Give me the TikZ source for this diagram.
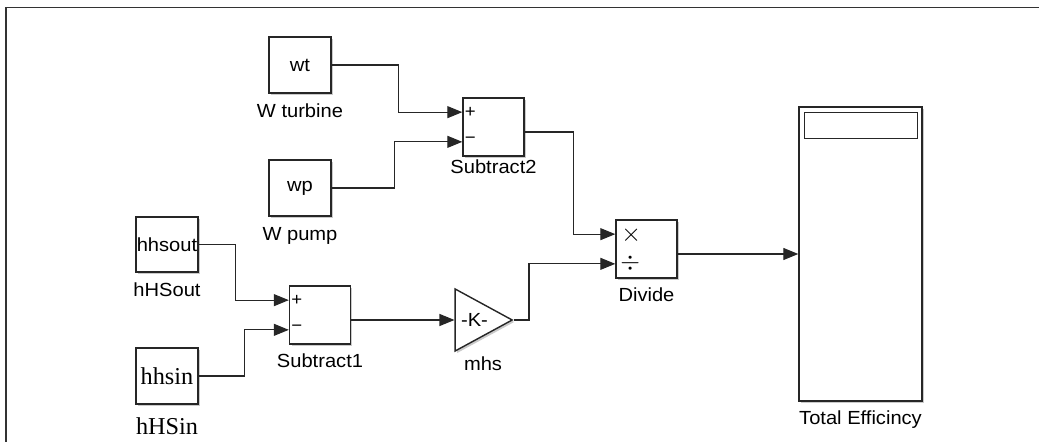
\documentclass[tikz,border=0pt]{standalone}
\usepackage{fontspec}
\setmainfont{Liberation Sans}[FakeStretch=1.06]
\newfontfamily\serifblk{Liberation Serif}
\usetikzlibrary{arrows.meta,calc,shadows,shapes.geometric}

\begin{document}
\begin{tikzpicture}[
      x=0.02cm, y=-0.02cm,
      block/.style={draw=black!85, fill=white, line width=0.8pt, inner sep=0pt,
        minimum width=1.24cm, minimum height=1.12cm,
        drop shadow={shadow xshift=0.04cm, shadow yshift=-0.04cm, fill=black!35, opacity=0.6},
        font=\fontsize{10.8}{12}\selectfont},
      sumblk/.style={block, minimum width=1.22cm, minimum height=1.16cm},
      wire/.style={draw=black!85, line width=0.65pt, -{Triangle[length=0.3cm, width=0.24cm]}},
      lbl/.style={anchor=base, inner sep=0pt, font=\fontsize{10.8}{12}\selectfont},
      slbl/.style={anchor=base, inner sep=0pt, font=\serifblk\fontsize{13.8}{16}\selectfont},
      sym/.style={inner sep=0pt, font=\fontsize{10}{11}\selectfont},
    ]
    \useasboundingbox (0,0) rectangle (1039,442);

    % -------------------------------------------------------
    %  Frame
    % -------------------------------------------------------
    \draw[black!80, line width=1.1pt] (6,442) -- (6,7.5) -- (1039,7.5);

    % -------------------------------------------------------
    %  Blocks
    % -------------------------------------------------------
    \node[block] (wt) at (300,65) {wt};
    \node[block] (wp) at (300,188) {wp};
    \node[block, minimum height=1.10cm] (hhsout) at (167,244.5) {hhsout};
    \node[block, font=\serifblk\fontsize{13.8}{16}\selectfont] (hhsin) at (167,376) {hhsin};

    \node[sumblk] (sub2) at (493.5,127) {};
    \node[sumblk] (sub1) at (320,315) {};
    \node[sumblk] (divide) at (646.5,249) {};

    \node[draw=black!85, fill=white, line width=0.8pt, inner sep=0pt,
      shape=isosceles triangle, isosceles triangle stretches,
      minimum width=1.24cm, minimum height=1.14cm, anchor=apex,
      drop shadow={shadow xshift=0.04cm, shadow yshift=-0.04cm, fill=black!35, opacity=0.6},
      font=\fontsize{10.8}{12}\selectfont] (gain) at (514,320) {-K-\hspace{3pt}};

    \node[block, minimum width=2.46cm, minimum height=5.88cm] (disp) at (860.5,254) {};
    \draw[black!85, line width=0.8pt] ($(disp.north west)+(6,6)$) rectangle ($(disp.north east)+(-5,32)$);

    % Signs
    \foreach \s in {sub1, sub2} {
      \node[sym] at ($(\s.north west)+(8,15)$) {+};
      \node[sym] at ($(\s.north west)+(8,43)$) {−};
    }
    \node[inner sep=0pt, font=\fontsize{14}{16}\selectfont] at ($(divide.north west)+(16,16)$) {$\times$};
    \node[inner sep=0pt, font=\fontsize{14}{16}\selectfont] at ($(divide.north west)+(15,44)$) {$\div$};

    % Labels
    \node[lbl] (wtlbl) at ($(wt.south)+(0,24)$) {W turbine};
    \node[lbl] (wplbl) at ($(wp.south)+(0,24)$) {W pump};
    \node[lbl] (hhsoutlbl) at ($(hhsout.south)+(0,24)$) {hHSout};
    \node[slbl] (hhsinlbl) at ($(hhsin.south)+(0,30)$) {hHSin};
    \node[lbl] (sub2lbl) at ($(sub2.south)+(0,17)$) {Subtract2};
    \node[lbl] (sub1lbl) at ($(sub1.south)+(0,23)$) {Subtract1};
    \node[lbl] (divlbl) at ($(divide.south)+(0,23)$) {Divide};
    \node[lbl] (gainlbl) at ($(gain.apex)+(-31,51)$) {mhs};
    \node[lbl] (displbl) at ($(disp.south)+(0,23)$) {Total Efficincy};

    % -------------------------------------------------------
    %  Ports
    % -------------------------------------------------------
    \coordinate (sub2in1) at ($(sub2.north west)!0.25!(sub2.south west)$);
    \coordinate (sub2in2) at ($(sub2.north west)!0.75!(sub2.south west)$);
    \coordinate (sub1in1) at ($(sub1.north west)!0.25!(sub1.south west)$);
    \coordinate (sub1in2) at ($(sub1.north west)!0.75!(sub1.south west)$);
    \coordinate (divin1) at ($(divide.north west)!0.25!(divide.south west)$);
    \coordinate (divin2) at ($(divide.north west)!0.75!(divide.south west)$);
    \coordinate (sub2out) at ($(sub2.east)+(0,5)$);
    \coordinate (sub1out) at ($(sub1.east)+(0,5)$);
    \coordinate (divout) at ($(divide.east)+(0,5)$);

    % -------------------------------------------------------
    %  Signals
    % -------------------------------------------------------
    \draw[wire] (wt.east) -- ++(67,0) |- (sub2in1);
    \draw[wire] (wp.east) -- ++(63,0) |- (sub2in2);
    \draw[wire] (hhsout.east) -- ++(37,0) |- (sub1in1);
    \draw[wire] (hhsin.east) -- ++(46,0) |- (sub1in2);
    \draw[wire] (sub2out) -- ++(49,0) |- (divin1);
    \draw[wire] (sub1out) -- (sub1out -| gain.west);
    \draw[wire] (gain.apex) -- ++(15,0) |- (divin2);
    \draw[wire] (divout) -- (divout -| disp.west);

  \end{tikzpicture}
\end{document}
